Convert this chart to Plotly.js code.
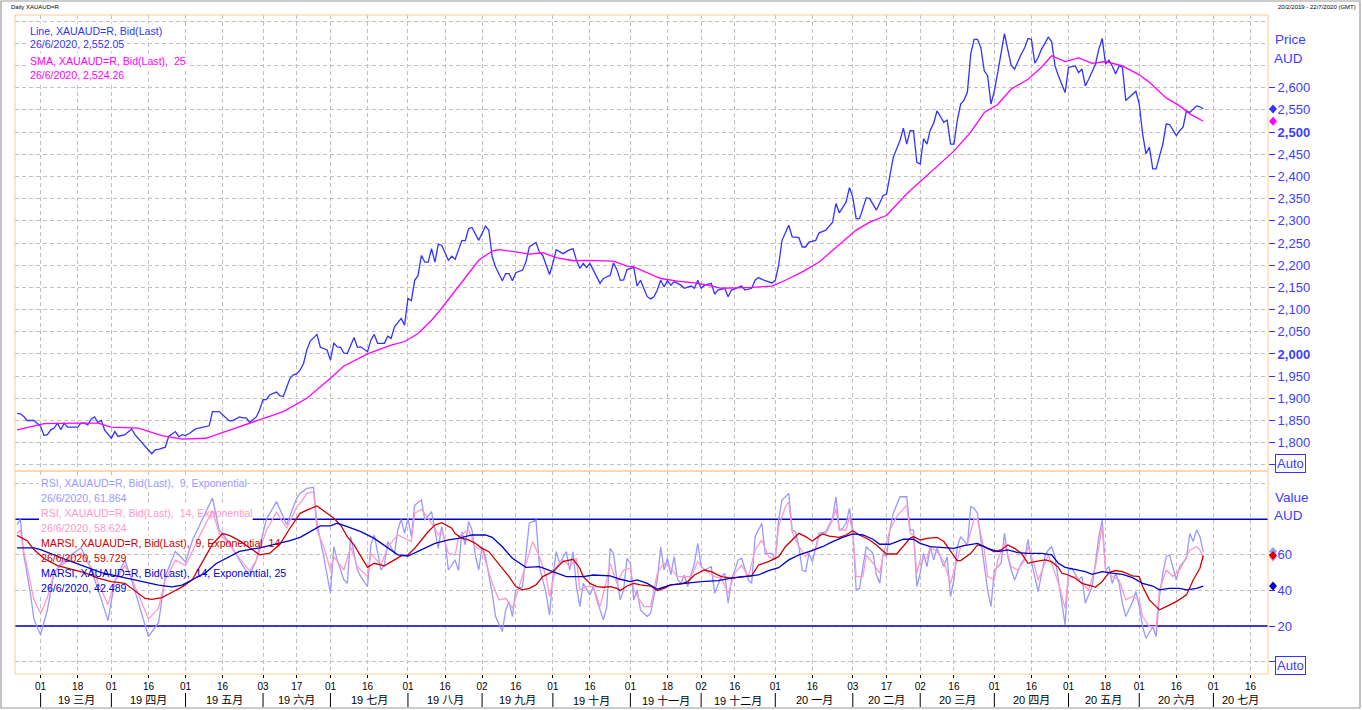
<!DOCTYPE html>
<html>
<head>
<meta charset="utf-8">
<script src="https://cdn.plot.ly/plotly-3.0.1.min.js"></script>
<style>
html,body{margin:0;padding:0;background:#fff;}
#chart{width:1362px;height:710px;}
</style>
</head>
<body>
<div id="chart"></div>
<script>
// ---------- x axis (trading-day index, 0 = 20/2/2019) ----------
const tickDays = [7,18,28,39,50,61,73,83,93,104,116,127,138,148,159,170,182,193,203,213,225,236,248,258,268,278,290,301,312,323,333,344,355,366];
const tickLabels = ['01','18','01','16','01','16','03','17','01','16','01','16','02','16','01','16','01','18','02','16','01','16','03','17','02','16','01','16','01','18','01','16','01','16'];
const monthStartDays = [7,28,50,73,93,116,138,159,182,203,225,248,268,290,312,333,355];
const monthLabels = ['19 三月','19 四月','19 五月','19 六月','19 七月','19 八月','19 九月','19 十月','19 十一月','19 十二月','20 一月','20 二月','20 三月','20 四月','20 五月','20 六月','20 七月'];
const lastDateLabel = '26/6/2020';

// ---------- price (Line, XAUAUD=R, Bid(Last)) ----------
const priceDays = [
0,1,2,3,5,7,8,9,10,11,
12,13,14,15,18,19,20,21,22,23,
24,25,26,28,29,30,32,34,35,37,
38,40,41,42,44,45,47,48,49,50,
51,53,55,57,58,60,61,63,64,66,
67,68,69,71,72,73,74,75,77,78,
79,80,81,82,83,84,85,86,87,89,
90,92,93,94,95,96,97,98,100,101,
102,104,105,106,107,109,110,111,112,114,
115,116,117,118,119,120,121,122,123,124,
125,126,128,129,130,132,133,134,135,137,
139,140,141,142,144,145,146,147,148,150,
151,152,154,155,156,158,159,160,162,164,
165,166,167,168,169,170,171,172,173,174,
176,177,178,179,180,181,182,183,184,185,
187,188,189,190,191,192,193,194,195,197,
198,200,201,202,203,204,206,207,208,210,
211,212,214,215,216,218,219,220,222,224,
225,226,227,229,230,232,233,234,235,237,
238,240,242,243,244,245,246,247,248,249,
250,252,253,255,257,258,259,260,262,263,
264,265,266,267,268,269,270,271,272,273,
275,276,277,278,279,280,281,282,283,284,
285,286,287,288,289,290,291,292,293,294,
295,296,297,298,299,300,301,302,303,304,
305,306,307,308,309,311,312,314,315,316,
317,318,320,321,322,323,324,325,326,327,
328,329,332,333,334,335,336,337,338,340,
341,342,344,345,346,347,348,350,351,352];
const priceValues = [
1866,1865,1859,1850,1850,1837,1816,1818,1829,1833,
1844,1829,1844,1835,1835,1844,1844,1840,1853,1858,
1846,1850,1828,1810,1825,1814,1818,1831,1818,1799,
1792,1775,1784,1785,1790,1814,1825,1813,1818,1816,
1820,1831,1835,1838,1870,1870,1863,1849,1850,1858,
1856,1856,1846,1858,1874,1897,1897,1908,1914,1906,
1904,1923,1945,1953,1955,1964,1978,2009,2029,2044,
2015,2009,1986,2025,2016,2015,2002,2001,2037,2015,
2016,2005,2031,2044,2024,2024,2040,2035,2061,2080,
2065,2125,2120,2166,2177,2222,2207,2207,2237,2207,
2247,2245,2211,2220,2213,2256,2255,2282,2285,2256,
2288,2279,2219,2196,2165,2181,2181,2165,2183,2189,
2207,2241,2251,2230,2222,2179,2204,2235,2226,2235,
2237,2211,2193,2204,2195,2204,2189,2174,2159,2170,
2177,2205,2190,2166,2167,2190,2193,2195,2153,2166,
2129,2124,2129,2144,2166,2151,2165,2155,2163,2155,
2148,2153,2148,2166,2148,2155,2159,2135,2144,2148,
2129,2144,2150,2153,2144,2148,2166,2172,2165,2160,
2166,2200,2256,2290,2264,2262,2241,2241,2252,2256,
2273,2279,2297,2339,2318,2331,2342,2375,2353,2305,
2305,2352,2350,2324,2357,2360,2406,2443,2481,2509,
2473,2503,2503,2432,2428,2485,2473,2505,2520,2548,
2522,2527,2473,2473,2526,2563,2572,2590,2676,2709,
2709,2690,2638,2627,2563,2593,2634,2683,2722,2685,
2650,2642,2660,2676,2690,2711,2709,2655,2668,2687,
2700,2714,2704,2649,2627,2589,2646,2649,2634,2642,
2604,2619,2653,2687,2711,2653,2662,2649,2631,2649,
2646,2571,2592,2563,2496,2451,2466,2417,2417,2473,
2518,2517,2492,2503,2511,2548,2544,2559,2557,2552.05];

// ---------- SMA 25 ----------
const smaDays = [0,8,18,24,28,36,43,49,56,61,67,72,79,86,93,97,104,111,115,119,123,126,131,137,141,143,147,152,156,160,165,169,177,181,183,191,196,201,205,209,213,218,224,228,233,238,243,249,253,258,264,270,278,283,287,291,295,300,304,307,311,315,319,323,328,333,336,341,345,348,352];
const smaValues = [1829,1843,1844,1844,1835,1833,1816,1808,1810,1823,1838,1850,1870,1900,1945,1973,2000,2020,2028,2046,2076,2103,2151,2211,2232,2235,2231,2225,2228,2217,2210,2211,2209,2198,2196,2170,2164,2160,2155,2148,2149,2150,2153,2166,2185,2207,2240,2279,2297,2312,2361,2402,2457,2500,2544,2562,2597,2619,2646,2672,2659,2667,2655,2659,2649,2629,2612,2577,2559,2541,2524.26];

// ---------- RSI 9 ----------
const rsi9Days = [
0,1,2,4,5,7,9,11,13,16,
19,22,25,27,29,32,34,37,39,42,
44,47,50,52,54,58,60,63,66,69,
71,74,77,80,83,84,86,88,89,90,
91,93,94,95,97,98,99,101,102,104,
105,106,108,109,110,112,113,114,115,116,
117,118,120,121,123,124,125,126,127,128,
130,131,132,133,134,135,136,137,138,139,
141,142,144,145,146,147,148,150,151,152,
154,155,156,157,158,159,160,161,163,164,
165,166,167,168,170,171,172,174,175,176,
177,178,179,180,181,182,183,184,185,187,
188,190,191,192,193,194,195,196,197,198,
199,201,202,203,204,206,207,209,210,211,
212,214,215,217,218,219,220,221,222,224,
225,226,227,229,230,231,232,233,234,235,
236,237,238,240,242,243,244,245,246,247,
248,249,250,251,252,254,255,256,257,258,
259,260,261,262,264,265,266,267,268,269,
270,271,272,273,275,276,277,278,279,280,
282,283,284,285,286,287,288,289,290,292,
293,294,295,296,298,299,300,301,302,303,
305,306,307,308,309,310,311,312,313,315,
316,317,319,320,321,322,323,324,325,326,
327,328,329,331,332,333,334,335,337,338,
339,340,341,342,344,345,347,348,349,350,
351,352];
const rsi9Values = [
77,80,60,38,24,15,29,50,55,60,
64,52,35,23,45,57,46,26,14,22,
48,62,56,68,76,92,74,67,57,48,
57,80,90,77,92,94.6,97.4,98,77.8,69.3,
59,38.4,64.6,57.2,46,44,70.3,51.5,47.8,42.2,
65.6,71.2,51.5,54.3,67.5,60.9,74,80,72.1,80.6,
70.3,88,90.9,79.6,84.3,74,63.7,75.9,67.5,51.5,
57.2,51.2,73,65.6,78.7,74,60,51.5,64.6,59,
38.4,25.3,16.9,29,33.7,25.3,40.3,42.2,59,77.8,
79.6,53.4,46,38.4,26.2,47.8,61.8,55.3,61.8,51.5,
61.8,42.2,30.9,44,37.5,42.2,34.7,23.4,30.9,63.7,
60.9,46,34.7,40.3,58.1,55.3,34.7,40.3,29,25.3,
27.2,46,64.6,51.5,58.1,48.7,59,46,44,48.7,
42.2,55.3,66.5,53.4,51.5,53.4,38.4,47.8,49.7,32.8,
46,57.2,58.1,46,44,70.3,74,77.8,60.9,60.9,
57.2,80,90.9,94.6,74,73,64.6,51.5,50.6,60.9,
56.2,64.6,72.1,73,80.6,92.7,74,75,77.8,86.2,
74,40.3,41.2,53.4,64.6,60.9,48.7,44,60.9,59,
74,83.4,88,92.7,92.7,74,74,42.2,49.7,60.9,
53.4,64.6,57.2,63.7,53.4,59,36.6,45.9,64.6,70.3,
65.6,87.1,86.2,83.4,68.4,55.3,40.3,30.9,51.5,55.3,
72.1,59,51.5,45.9,55.3,58.1,68.8,56.2,47.8,39.4,
59,62.8,64.6,59,45.9,32.8,20.6,51.5,52.5,45.9,
47.8,32.8,42.2,55.3,70.3,79.6,51.5,53.4,44,49.7,
44,32.8,25.3,33.7,39.4,30.9,19.7,13.1,19.7,14.1,
36.6,49.7,59,60,45.9,53.4,58.1,72.1,67.5,74,
70.3,61.864];

// ---------- RSI 14 ----------
const rsi14Days = [
0,1,2,4,5,7,9,11,13,16,
19,22,25,27,29,32,34,37,39,42,
44,47,50,52,54,58,60,63,66,69,
71,74,77,80,83,84,86,88,89,91,
93,94,97,99,101,104,105,108,110,113,
115,117,118,120,122,124,125,126,128,130,
131,134,136,138,141,143,145,147,149,151,
153,155,157,158,160,162,164,166,167,169,
171,173,175,176,178,180,182,183,186,188,
190,192,194,196,198,200,202,204,207,209,
211,213,215,217,219,221,223,225,226,228,
229,230,232,234,235,237,238,240,242,243,
244,246,247,248,249,251,252,254,256,257,
259,261,264,265,266,267,268,270,271,273,
275,277,279,280,282,284,285,287,288,290,
291,293,295,297,299,300,302,303,306,307,
309,311,312,314,316,318,320,322,323,325,
327,329,331,333,334,336,338,339,341,343,
345,348,350,351,352];
const rsi14Values = [
72,74,62,45,35,27,36,50,54,58,
61,53,40,32,45,54,47,33,24,30,
46,57,54,62,70,85,72,66,58,51,
57,74,84,75,87,89,94.6,95.5,74,64.6,
51.5,59,51.5,64.6,53.4,47.8,60.9,54.3,64.6,71.2,
69.3,67.5,83.4,85.6,80.6,75,71.2,74,60.9,60,
70.3,74,64.6,62.8,44,34.7,35.6,30,42.2,55.3,
67.5,59,47.8,36.6,53.4,57.2,53.4,58.1,40.3,42.2,
42.2,30.9,46,55.3,44,51.5,52.5,40.3,30.9,30.9,
49.7,55.3,52.5,47.8,47.8,47.8,56.2,51.5,47.8,46.9,
38.4,49.7,54.3,47.8,62.8,68.4,59,57.2,75.9,87.1,
89.9,73,64.6,59,61.8,62.8,71.2,72.1,79.6,86.2,
74,74,81.5,72.1,47.8,47.8,60,55.3,49.7,60,
74,81.5,88,72.1,71.2,49.7,57.2,58.1,64.6,61.8,
56.2,44,57.2,64.6,66,80.6,80,62.8,47.8,45.9,
57.2,66.5,53.4,51.5,57.2,64.6,53.4,45.9,60,55.3,
44,30,47.8,47.8,44,40.3,53.4,75.9,51.5,47.8,
45.9,34.7,36.6,34.7,25.3,19.7,19.7,40.3,51.5,47.8,
51.5,62.8,64.6,62.8,58.624];

// ---------- MARSI 9 / 14 ----------
const marsi9Days = [
0,3,5,8,12,16,20,24,28,32,
35,38,40,43,46,49,52,55,58,61,
63,66,69,72,75,78,81,83,84,86,
89,92,94,96,98,100,102,104,106,108,
109,112,114,116,118,120,122,124,126,129,
130,132,134,136,138,140,142,144,146,148,
150,152,154,156,159,162,165,167,168,170,
172,174,176,178,179,181,183,185,188,190,
192,194,197,199,201,204,206,209,212,215,
218,220,223,226,228,230,232,234,236,237,
239,241,244,246,248,250,253,255,258,261,
263,265,266,268,270,273,275,277,279,280,
283,285,287,290,292,294,296,298,300,302,
305,307,309,310,312,314,316,319,320,322,
324,326,328,331,333,334,336,338,339,341,
344,347,349,351,352];
const marsi9Values = [
71,68,63,58,54,52,50,47,45,44,
40,35.5,35,36,39,42,46,56,66,72,
71,68,64,60,61,66,75,81,83.4,85.2,
87.5,83.4,80.6,76.8,70.3,65.6,59,53,55.3,54.3,
53.8,57.2,59.4,60,63.7,68.4,73,76.8,78.1,75,
72,69.3,68.4,66.5,63.7,61.8,57.2,52.5,47.8,42.2,
40.3,41.2,43.1,47.8,50.6,56.2,57.5,52.5,47.8,44,
42.2,41.8,42.2,41.2,39.9,42.5,44,43.1,42.5,39.9,
41.2,43.1,43.7,45,48.7,51.5,50.6,47.8,46.9,47.8,
48.2,54.3,56.2,59,64.6,68.4,72.1,70.3,67.8,69.3,
71.8,70.6,69.9,71.2,73.6,71.2,68.4,65.6,60.5,60.5,
64.6,69.3,70.3,68.4,69.3,69.9,67.5,62.4,56.8,56.8,
60.9,65.6,64.6,61.8,62.8,65.6,63.7,60.9,55.3,56.2,
57.2,56.2,53,49.7,48.7,46.9,44,42.5,41.8,45,
50,51.2,50.6,48.2,47.8,42.2,34.7,30.9,29.1,30.9,
33.7,37.5,45.9,52.5,59.729];

// ---------- MARSI 14 / 25 ----------
const marsi14Days = [
0,5,7,15,25,35,38,42,46,49,
52,56,59,62,66,72,78,81,84,87,
90,93,95,98,102,106,110,113,116,120,
124,128,131,135,139,141,144,147,151,155,
159,163,168,171,176,179,182,184,187,190,
194,198,203,208,212,216,220,223,226,229,
232,235,239,242,245,248,251,254,256,259,
263,266,268,271,274,278,281,285,288,291,
294,297,300,304,307,309,311,314,317,319,
322,325,328,331,334,337,339,342,345,347,
350,352];
const marsi14Values = [
64,64,63,57,50,46,45,43,42,43,
46,50,55,58,62,64,66.5,68,69.9,73.1,
76.3,76.3,77.8,75.9,73.1,69.3,63.7,60,59.4,62.8,
66.5,68.4,69.3,71.2,71.2,69.9,64.6,58.1,53,53.4,
50.6,47.8,47.8,48.7,48.2,46.3,45,45.9,44,40.7,
43.1,44,45,45.5,46.9,47.8,48.7,51.2,52.8,57.2,
60,61.8,64.6,67.5,69.9,71.8,71.2,68.8,66,66,
68.8,68.8,66.5,64.6,64.1,63.7,65.2,66.5,63.7,61.8,
62.8,61.3,60.9,60.9,60,55.3,53,51.9,50.6,49.1,
50.6,49.7,49.1,47.2,44,42.5,40.3,41.2,41.2,40.3,
41.2,42.489];

// ---------- value axes ----------
const priceTickVals = [1750,1800,1850,1900,1950,2000,2050,2100,2150,2200,2250,2300,2350,2400,2450,2500,2550,2600];
const priceGridOnly = [2650,2700,2750];
const valueTickVals = [0,20,40,60];
const valueGridOnly = [100];
const rsiUpperBand = 80, rsiLowerBand = 20;

// ---------- styling / geometry ----------
const FONT = '"Liberation Sans", Arial, "Noto Sans CJK SC", sans-serif';
const LEGEND_SIZE = 10.6;
const GRID = '#c0c0c0', DASH = '4px,3px', FRAME = '#ffc994', AXIS_BLUE = '#3c3cff';
const C = {price:'#3333ff', sma:'#ff00ff', rsi9:'#9999ff', rsi14:'#ff99cc', marsi9:'#cc0000', marsi14:'#0000cc'};
const X_RANGE = [-0.6, 371.2];
const Y_RANGE = [1736.2, 2763.8];
const Y2_RANGE = [-7.0, 107.2];
const PX = {left:15, right:1268, top:15, bottom:674, split:471};
const plotW = PX.right - PX.left, plotH = PX.bottom - PX.top;
const SPLIT = (PX.bottom - PX.split) / plotH;
const xp = px => (px - PX.left) / plotW;
const yp = py => (PX.bottom - py) / plotH;
const dataX = px => X_RANGE[0] + (px - PX.left) / plotW * (X_RANGE[1] - X_RANGE[0]);
const dataY2 = py => Y2_RANGE[1] - (py - PX.split) / (PX.bottom - PX.split) * (Y2_RANGE[1] - Y2_RANGE[0]);
const unitsPerPx = {y:(Y_RANGE[1] - Y_RANGE[0]) / (PX.split - PX.top), y2:(Y2_RANGE[1] - Y2_RANGE[0]) / (PX.bottom - PX.split)};
const last = a => a[a.length - 1];
const fmtThousands = (v, d) => v.toLocaleString('en-US', {minimumFractionDigits:d, maximumFractionDigits:d});

const priceTickText = priceTickVals.map(v => v === 1750 ? '' : (v % 500 === 0 ? '<b>' + fmtThousands(v,0) + '</b>' : fmtThousands(v,0)));

// ---------- traces ----------
function line(x, y, color, yaxis) {
  return {type:'scatter', mode:'lines', x, y, xaxis:'x', yaxis, line:{color, width:1.3}, hoverinfo:'skip', showlegend:false};
}
const data = [
  line(priceDays, priceValues, C.price, 'y'),
  line(smaDays, smaValues, C.sma, 'y'),
  line(rsi9Days, rsi9Values, C.rsi9, 'y2'),
  line(rsi14Days, rsi14Values, C.rsi14, 'y2'),
  line(marsi9Days, marsi9Values, C.marsi9, 'y2'),
  line(marsi14Days, marsi14Values, C.marsi14, 'y2')
];

// ---------- annotations ----------
const ann = [];
function txt(text, px, py, color, size, extra) {
  ann.push(Object.assign({text, xref:'paper', yref:'paper', x:xp(px), y:yp(py), xanchor:'left', yanchor:'middle',
    showarrow:false, borderpad:0, font:{family:FONT, size, color}}, extra || {}));
}
txt('Daily XAUAUD=R', 10, 7, '#000', 6);
txt('20/2/2019 - 22/7/2020 (GMT)', 1357, 7, '#000', 6, {xanchor:'right'});

const upperLegend = [
  ['Line, XAUAUD=R, Bid(Last)', C.price, 31],
  [lastDateLabel + ', ' + fmtThousands(last(priceValues), 2), C.price, 44.5],
  ['SMA, XAUAUD=R, Bid(Last),\u00a0 25', C.sma, 60.5],
  [lastDateLabel + ', ' + fmtThousands(last(smaValues), 2), C.sma, 75]
];
upperLegend.forEach(([t, c, py]) => txt(t, 28, py, c, LEGEND_SIZE, {bgcolor:'#fff', borderpad:1}));

const lowerLegend = [
  ['RSI, XAUAUD=R, Bid(Last),\u00a0 9, Exponential', C.rsi9, 483.3],
  [lastDateLabel + ', ' + last(rsi9Values).toFixed(3), C.rsi9, 498.3],
  ['RSI, XAUAUD=R, Bid(Last),\u00a0 14, Exponential', C.rsi14, 513.3],
  [lastDateLabel + ', ' + last(rsi14Values).toFixed(3), C.rsi14, 528.3],
  ['MARSI, XAUAUD=R, Bid(Last),\u00a0 9, Exponential, 14', C.marsi9, 542.7],
  [lastDateLabel + ', ' + last(marsi9Values).toFixed(3), C.marsi9, 557.7],
  ['MARSI, XAUAUD=R, Bid(Last),\u00a0 14, Exponential, 25', C.marsi14, 573.3],
  [lastDateLabel + ', ' + last(marsi14Values).toFixed(3), C.marsi14, 587.7]
];
lowerLegend.forEach(([t, c, py]) => txt(t, 40, py, c, LEGEND_SIZE));

// right-side axis captions
txt('Price', 1274, 40, AXIS_BLUE, 13.5);
txt('AUD', 1273, 58, AXIS_BLUE, 13.5);
txt('Value', 1274, 497, AXIS_BLUE, 13.5);
txt('AUD', 1273, 515, AXIS_BLUE, 13.5);
txt('Auto', 1275, 463, AXIS_BLUE, 13, {bordercolor:'#3333ff', borderwidth:1, borderpad:1});
txt('Auto', 1275, 665.5, AXIS_BLUE, 13, {bordercolor:'#3333ff', borderwidth:1, borderpad:1});

// month labels
monthLabels.forEach((m, i) => {
  const a = monthStartDays[i];
  const b = i + 1 < monthStartDays.length ? monthStartDays[i + 1] : X_RANGE[1];
  ann.push({text:m, xref:'x', yref:'paper', x:(a + b) / 2, y:yp(700), xanchor:'center', yanchor:'middle',
    showarrow:false, font:{family:FONT, size:11, color:'#000'}});
});

// ---------- shapes ----------
const shapes = [];
// 80 band sits under the legend text boxes; 20 band above the grid
shapes.push({type:'line', xref:'x', yref:'y2', x0:X_RANGE[0], x1:X_RANGE[1], y0:rsiUpperBand, y1:rsiUpperBand,
  line:{color:'#0000cc', width:1.5}, layer:'below'});
shapes.push({type:'line', xref:'x', yref:'y2', x0:X_RANGE[0], x1:X_RANGE[1], y0:rsiLowerBand, y1:rsiLowerBand,
  line:{color:'#0000cc', width:1.5}, layer:'between'});

// white boxes behind the lower legend text (below the data lines)
const ctx = document.createElement('canvas').getContext('2d');
ctx.font = LEGEND_SIZE + 'px "Liberation Sans", Arial';
lowerLegend.forEach(([t, c, py]) => {
  const w = ctx.measureText(t).width;
  shapes.push({type:'rect', xref:'x', yref:'y2', x0:dataX(39), x1:dataX(41 + w), y0:dataY2(py + 7.5), y1:dataY2(py - 7.5),
    fillcolor:'#ffffff', line:{width:0}, layer:'between'});
});

// panel frames
shapes.push({type:'rect', xref:'paper', yref:'paper', x0:0, x1:1, y0:SPLIT, y1:1, line:{color:FRAME, width:1}, layer:'above'});
shapes.push({type:'rect', xref:'paper', yref:'paper', x0:0, x1:1, y0:0, y1:SPLIT, line:{color:FRAME, width:1}, layer:'above'});

// last-value diamonds on the right axis
function diamond(value, yref, color) {
  const cx = xp(1273), hx = 4 / plotW, hy = 4.5 * unitsPerPx[yref];
  shapes.push({type:'path', xref:'paper', yref,
    path:`M ${cx - hx},${value} L ${cx},${value + hy} L ${cx + hx},${value} L ${cx},${value - hy} Z`,
    fillcolor:color, line:{width:0}, layer:'above'});
}
diamond(last(priceValues), 'y', C.price);
diamond(last(smaValues), 'y', C.sma);
diamond(last(rsi9Values), 'y2', C.rsi9);
diamond(last(rsi14Values), 'y2', C.rsi14);
diamond(last(marsi9Values), 'y2', C.marsi9);
diamond(last(marsi14Values), 'y2', C.marsi14);

// month separators
monthStartDays.forEach(d => shapes.push({type:'line', xref:'x', yref:'paper', x0:d, x1:d, y0:yp(693), y1:yp(707),
  line:{color:'#000', width:1}}));

// outer window frame
shapes.push({type:'rect', xref:'paper', yref:'paper', x0:xp(1), x1:xp(1360), y0:yp(708), y1:yp(1),
  line:{color:'#9a9a9a', width:1.2}, layer:'above'});

// ---------- layout ----------
const yCommon = {
  side:'right', anchor:'x', zeroline:false, showline:false, fixedrange:true,
  tickmode:'array', ticks:'outside', ticklen:6, tickwidth:1, tickcolor:'#3333ff',
  tickfont:{family:FONT, size:13, color:AXIS_BLUE},
  showgrid:true, gridcolor:GRID, griddash:DASH, gridwidth:1
};
const layout = {
  width:1362, height:710,
  margin:{l:PX.left, r:1362 - PX.right, t:PX.top, b:710 - PX.bottom, pad:0},
  paper_bgcolor:'#ffffff', plot_bgcolor:'#ffffff',
  showlegend:false, hovermode:false,
  font:{family:FONT, size:11, color:'#000'},
  xaxis:{
    range:X_RANGE, anchor:'y2', zeroline:false, showline:false, fixedrange:true,
    tickmode:'array', tickvals:tickDays, ticktext:tickLabels,
    ticks:'outside', ticklen:3, tickcolor:'#000', tickwidth:1,
    tickfont:{family:FONT, size:10, color:'#000'},
    showgrid:true, gridcolor:GRID, griddash:DASH, gridwidth:1
  },
  yaxis:Object.assign({}, yCommon, {
    domain:[SPLIT, 1], range:Y_RANGE, tickvals:priceTickVals, ticktext:priceTickText,
    minor:{tickmode:'array', tickvals:priceGridOnly, showgrid:true, gridcolor:GRID, griddash:DASH, gridwidth:1, ticks:''}
  }),
  yaxis2:Object.assign({}, yCommon, {
    domain:[0, SPLIT], range:Y2_RANGE, tickvals:valueTickVals, ticktext:['', '20', '40', '60'],
    minor:{tickmode:'array', tickvals:valueGridOnly, showgrid:true, gridcolor:GRID, griddash:DASH, gridwidth:1, ticks:''}
  }),
  shapes, annotations:ann
};

Plotly.newPlot('chart', data, layout, {staticPlot:true, displayModeBar:false});
</script>
</body>
</html>
